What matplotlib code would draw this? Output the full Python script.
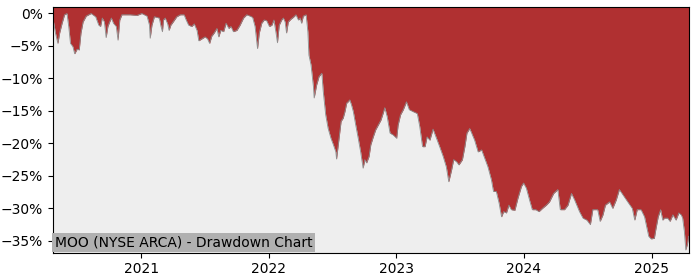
import matplotlib
matplotlib.use("Agg")
import matplotlib.pyplot as plt
import matplotlib.dates as mdates
from matplotlib.ticker import PercentFormatter, MultipleLocator
import pandas as pd

# drawdown (%)
dates = [
    "2020-04-24", "2020-05-01", "2020-05-08", "2020-05-13", "2020-05-20", "2020-05-27",
    "2020-06-03", "2020-06-08", "2020-06-13", "2020-06-20", "2020-06-25", "2020-07-02",
    "2020-07-08", "2020-07-13", "2020-07-19", "2020-07-28", "2020-08-11", "2020-08-24",
    "2020-09-02", "2020-09-07", "2020-09-12", "2020-09-18", "2020-09-23", "2020-09-28",
    "2020-10-03", "2020-10-08", "2020-10-14", "2020-10-22", "2020-10-27", "2020-11-01",
    "2020-11-07", "2020-12-01", "2020-12-20", "2021-01-03", "2021-01-18", "2021-01-25",
    "2021-01-27", "2021-02-01", "2021-02-08", "2021-02-15", "2021-02-22", "2021-02-27",
    "2021-03-03", "2021-03-06", "2021-03-11", "2021-03-18", "2021-03-22", "2021-03-27",
    "2021-04-04", "2021-04-13", "2021-04-23", "2021-05-04", "2021-05-10", "2021-05-17",
    "2021-05-26", "2021-06-02", "2021-06-10", "2021-06-15", "2021-06-24", "2021-07-03",
    "2021-07-10", "2021-07-16", "2021-07-22", "2021-07-29", "2021-08-06", "2021-08-11",
    "2021-08-17", "2021-08-25", "2021-09-01", "2021-09-09", "2021-09-15", "2021-09-22",
    "2021-10-02", "2021-10-11", "2021-10-21", "2021-10-30", "2021-11-09", "2021-11-16",
    "2021-11-23", "2021-11-30", "2021-12-05", "2021-12-12", "2021-12-19", "2021-12-26",
    "2022-01-03", "2022-01-10", "2022-01-16", "2022-01-22", "2022-01-26", "2022-01-31",
    "2022-02-07", "2022-02-12", "2022-02-17", "2022-02-21", "2022-02-26", "2022-03-05",
    "2022-03-12", "2022-03-20", "2022-03-27", "2022-04-01", "2022-04-05", "2022-04-10",
    "2022-04-18", "2022-04-23", "2022-04-26", "2022-05-02", "2022-05-09", "2022-05-11",
    "2022-05-18", "2022-05-25", "2022-06-02", "2022-06-06", "2022-06-13", "2022-06-20",
    "2022-06-28", "2022-07-05", "2022-07-12", "2022-07-14", "2022-07-19", "2022-07-27",
    "2022-08-02", "2022-08-07", "2022-08-12", "2022-08-16", "2022-08-21", "2022-08-26",
    "2022-08-31", "2022-09-07", "2022-09-14", "2022-09-21", "2022-09-28", "2022-10-03",
    "2022-10-08", "2022-10-15", "2022-10-20", "2022-10-27", "2022-11-03", "2022-11-10",
    "2022-11-18", "2022-11-24", "2022-11-29", "2022-12-06", "2022-12-14", "2022-12-23",
    "2023-01-02", "2023-01-06", "2023-01-13", "2023-01-21", "2023-01-30", "2023-02-07",
    "2023-02-18", "2023-03-02", "2023-03-09", "2023-03-17", "2023-03-24", "2023-03-30",
    "2023-04-07", "2023-04-16", "2023-04-26", "2023-05-05", "2023-05-15", "2023-05-24",
    "2023-05-31", "2023-06-08", "2023-06-14", "2023-06-22", "2023-06-29", "2023-07-09",
    "2023-07-16", "2023-07-22", "2023-07-30", "2023-08-13", "2023-08-23", "2023-09-02",
    "2023-09-11", "2023-09-20", "2023-09-30", "2023-10-06", "2023-10-14", "2023-10-22",
    "2023-10-29", "2023-11-04", "2023-11-12", "2023-11-19", "2023-11-26", "2023-12-06",
    "2023-12-15", "2023-12-25", "2023-12-31", "2024-01-08", "2024-01-17", "2024-01-25",
    "2024-02-04", "2024-02-13", "2024-02-23", "2024-03-05", "2024-03-14", "2024-03-26",
    "2024-04-07", "2024-04-14", "2024-04-26", "2024-05-06", "2024-05-16", "2024-05-25",
    "2024-06-08", "2024-06-18", "2024-06-29", "2024-07-09", "2024-07-16", "2024-07-24",
    "2024-07-30", "2024-08-06", "2024-08-14", "2024-08-21", "2024-09-02", "2024-09-11",
    "2024-09-21", "2024-09-30", "2024-10-10", "2024-10-24", "2024-11-06", "2024-11-13",
    "2024-11-20", "2024-12-01", "2024-12-11", "2024-12-17", "2024-12-23", "2024-12-30",
    "2025-01-08", "2025-01-12", "2025-01-19", "2025-01-26", "2025-02-01", "2025-02-06",
    "2025-02-15", "2025-02-22", "2025-03-02", "2025-03-11", "2025-03-19", "2025-03-26",
    "2025-03-30", "2025-04-04", "2025-04-08", "2025-04-13", "2025-04-16",
]
drawdown = [
    -0.8, -3.0, -4.6, -3.0, -1.5, -0.2,
    0.0, -2.0, -4.6, -5.1, -6.2, -5.5,
    -5.6, -3.0, -1.3, -0.4, 0.0, -0.5,
    -1.8, -2.0, -0.7, -1.3, -3.7, -2.0,
    -1.3, -0.7, -1.5, -2.0, -4.1, -1.0,
    -0.2, -0.2, -0.3, 0.0, -0.4, -1.8,
    -3.8, -1.8, -0.5, -0.6, -0.7, -2.0,
    -2.8, -1.0, -0.7, -1.6, -2.6, -1.8,
    -1.2, -0.5, -0.2, -0.2, -1.0, -1.8,
    -2.0, -1.6, -2.6, -4.2, -3.9, -3.6,
    -3.9, -4.6, -3.5, -3.0, -2.3, -3.6,
    -2.6, -2.8, -1.5, -2.3, -2.0, -2.8,
    -2.6, -1.8, -0.7, -0.2, -0.4, -0.6,
    -2.0, -5.4, -3.0, -1.5, -1.0, -1.1,
    -2.0, -1.8, -1.0, -3.0, -4.5, -1.8,
    -1.0, -0.7, -1.3, -3.0, -1.3, -0.9,
    -0.6, -0.2, -1.0, -0.7, -1.5, -0.4,
    -0.2, -2.8, -6.4, -7.9, -11.3, -13.0,
    -11.0, -9.7, -9.2, -12.0, -15.6, -17.7,
    -19.2, -20.2, -21.3, -22.4, -20.2, -16.6,
    -16.1, -15.1, -13.8, -13.6, -13.3, -14.1,
    -15.1, -17.2, -19.2, -21.3, -23.8, -22.5,
    -23.0, -22.0, -20.2, -19.0, -17.9, -17.2,
    -16.4, -15.4, -14.5, -15.9, -18.4, -18.7,
    -19.2, -17.2, -15.6, -14.8, -13.6, -14.8,
    -15.1, -15.4, -17.4, -20.5, -20.5, -19.0,
    -19.5, -17.8, -19.2, -20.5, -22.0, -23.6,
    -25.9, -24.1, -22.5, -22.8, -23.3, -22.5,
    -20.5, -18.4, -17.7, -19.5, -21.3, -21.0,
    -22.3, -23.6, -25.6, -27.4, -27.4, -29.2,
    -31.3, -30.5, -30.7, -29.5, -30.2, -30.3,
    -28.4, -26.6, -26.1, -26.9, -28.7, -30.2,
    -30.2, -30.5, -30.0, -29.5, -29.0, -27.7,
    -27.1, -30.2, -30.2, -29.5, -27.7, -28.7,
    -30.5, -31.5, -31.8, -32.5, -30.2, -30.2,
    -30.2, -32.0, -31.0, -29.5, -29.0, -30.0,
    -28.7, -27.1, -27.9, -29.0, -30.0, -31.8,
    -30.2, -30.2, -31.3, -32.8, -34.3, -34.7,
    -34.6, -33.3, -31.3, -30.2, -31.8, -31.5,
    -31.5, -32.0, -31.0, -31.8, -30.7, -31.0,
    -31.5, -33.6, -36.4, -35.4, -34.3,
]
label = "MOO (NYSE ARCA) - Drawdown Chart"

x = pd.to_datetime(dates)
ymin, ymax = -36.8, 1.0

fig = plt.figure(figsize=(7, 2.8), dpi=100)
ax = fig.add_axes([0.0757, 0.098, 0.908, 0.877])
ax.set_facecolor("#eeeeee")

ax.fill_between(x, drawdown, ymax, color="#b03031", linewidth=0)
ax.plot(x, drawdown, color="#8c8c8c", linewidth=0.6)

ax.set_xlim(x[0], x[-1])
ax.set_ylim(ymin, ymax)
ax.yaxis.set_major_locator(MultipleLocator(5))
ax.yaxis.set_major_formatter(PercentFormatter(100, decimals=0))
ax.xaxis.set_major_locator(mdates.YearLocator())
ax.xaxis.set_major_formatter(mdates.DateFormatter("%Y"))
ax.tick_params(labelsize=10)

ax.text(0.003, 0.012, label, transform=ax.transAxes, fontsize=10,
        ha="left", va="bottom",
        bbox=dict(facecolor="#b0b0b0", edgecolor="none", pad=2))

fig.savefig("out.png", dpi=100)
